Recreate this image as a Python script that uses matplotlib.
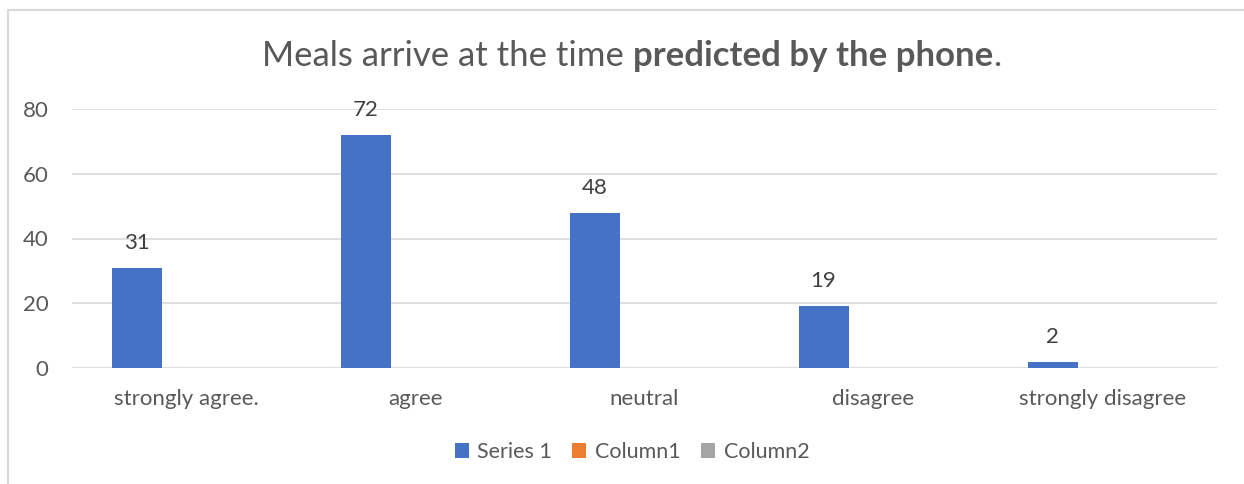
import matplotlib
matplotlib.use("Agg")
import matplotlib.pyplot as plt
from matplotlib.patches import Rectangle, Patch
import numpy as np

plt.rcParams['font.family'] = ['Lato', 'DejaVu Sans']

categories = ["strongly agree.", "agree", "neutral", "disagree", "strongly disagree"]
series_names = ["Series 1", "Column1", "Column2"]
series_1 = [31, 72, 48, 19, 2]
column_1 = [0, 0, 0, 0, 0]
column_2 = [0, 0, 0, 0, 0]
y_ticks = [0, 20, 40, 60, 80]

colors = ["#4472C4", "#ED7D31", "#A5A5A5"]
text_color = "#595959"
grid_color = "#D9D9D9"

W, H = 1244, 484
fig = plt.figure(figsize=(W / 100, H / 100), dpi=100)

# chart-area border (extends past the right and bottom edges)
fig.patches.append(Rectangle((8 / W, -0.1), 1.2, 1 - 10 / H + 0.1, transform=fig.transFigure,
                             fill=False, edgecolor=grid_color, linewidth=1.5))

ax = fig.add_axes([72 / W, 1 - 368 / H, (1217 - 72) / W, (368 - 109) / H])
x = np.arange(len(categories))
bw = 50 / 229
offsets = [-bw, 0, bw]
for vals, off, c in zip([series_1, column_1, column_2], offsets, colors):
    ax.bar(x + off, vals, width=bw, color=c, zorder=3)

for xi, v in zip(x, series_1):
    ax.annotate(str(v), (xi - bw, v), xytext=(0, 18), textcoords="offset points",
                ha="center", va="center", fontsize=16, color="#404040")

ax.set_xlim(-0.5, len(categories) - 0.5)
ax.set_ylim(0, 80)
ax.set_yticks(y_ticks)
ax.set_xticks(x)
ax.set_xticklabels(categories)
ax.tick_params(axis="both", length=0, labelsize=16, labelcolor=text_color)
ax.tick_params(axis="x", pad=15)
ax.tick_params(axis="y", pad=17)
ax.grid(axis="y", color=grid_color, linewidth=1.2, zorder=0)
for s in ax.spines.values():
    s.set_visible(False)

# title with a bold segment
parts = [("Meals arrive at the time ", "normal"), ("predicted by the phone", "bold"), (".", "normal")]
renderer = fig.canvas.get_renderer()
texts = []
for t, w in parts:
    texts.append(fig.text(0, 1 - 56 / H, t, fontsize=25, fontweight=w, color=text_color,
                          va="center", ha="left"))
widths = [tx.get_window_extent(renderer).width for tx in texts]
total = sum(widths)
xpos = 632 - total / 2
for tx, wd in zip(texts, widths):
    tx.set_x(xpos / W)
    xpos += wd

handles = [Patch(facecolor=c, edgecolor="none") for c in colors]
fig.legend(handles, series_names, loc="center", bbox_to_anchor=(632 / W, 1 - 452 / H),
           ncol=3, frameon=False, fontsize=15.5, labelcolor=text_color,
           handlelength=0.65, handleheight=0.65, handletextpad=0.4, columnspacing=0.95)

fig.savefig("out.png", dpi=100)
